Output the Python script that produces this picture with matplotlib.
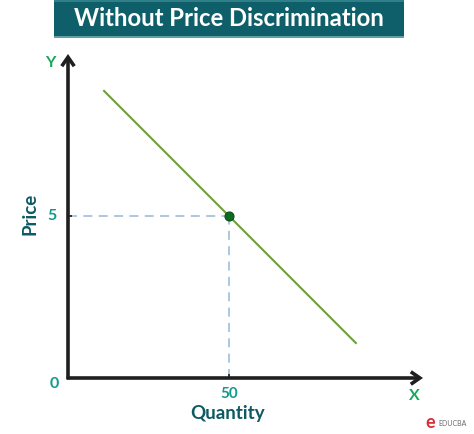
import matplotlib
matplotlib.use("Agg")
import matplotlib.pyplot as plt
from matplotlib.patches import Rectangle

demand_x = [11.2, 89.4]
demand_y = [8.86, 1.08]
point_x = [50]
point_y = [5]
title = "Without Price Discrimination"
x_label = "Quantity"
y_label = "Price"

W, H = 474, 434
plt.rcParams['font.family'] = ['Lato', 'DejaVu Sans']
fig = plt.figure(figsize=(W / 100, H / 100), dpi=100, facecolor='white')

# axes: origin at pixel (68, 378), top right at pixel (423, 54)
ax = fig.add_axes([68 / W, 1 - 378 / H, (423 - 68) / W, (378 - 54) / H])
ax.set_xlim(0, 110.25)
ax.set_ylim(0, 10)
ax.patch.set_visible(False)
for s in ax.spines.values():
    s.set_visible(False)
ax.set_xticks([])
ax.set_yticks([])

# axis arrows
arrow = dict(arrowstyle='->,head_length=0.65,head_width=0.45', color='#1f1f1f', lw=2.6,
             shrinkA=0, shrinkB=0, joinstyle='miter', capstyle='butt')
ax.annotate('', xy=(1, 0), xytext=(-0.004, 0), xycoords='axes fraction', textcoords='axes fraction', arrowprops=arrow)
ax.annotate('', xy=(0, 1), xytext=(0, -0.004), xycoords='axes fraction', textcoords='axes fraction', arrowprops=arrow)

# guides
ax.plot([0, point_x[0]], [point_y[0], point_y[0]], color='#a6c3de', lw=1.3, dashes=(5, 3.5))
ax.plot([point_x[0], point_x[0]], [0, point_y[0]], color='#a6c3de', lw=1.3, dashes=(5, 3.5))

# ticks
ax.plot([50, 50], [-0.13, 0.13], color='#1f1f1f', lw=1.2, solid_capstyle='butt')
ax.plot([-1.3, 1.3], [5, 5], color='#1f1f1f', lw=1.2, solid_capstyle='butt')

# demand
ax.plot(demand_x, demand_y, color='#6f9f3a', lw=1.5)
ax.plot(point_x, point_y, 'o', ms=6.5, mfc='#0b6b1f', mec='#0a4f1a', mew=0.8, zorder=5)

teal = '#0f9a8c'
dark = '#0e5a63'
green = '#16a85a'
def px(x, y):
    return x / W, 1 - y / H

def t(x, y, s, size, color, weight='bold', **kw):
    fig.text(*px(x, y), s, fontsize=size, color=color, fontweight=weight, ha='center', va='center', **kw)

t(229, 394, '50', 11, teal)
t(54, 384, '0', 11.5, teal)
t(52, 216, '5', 11.5, teal)
t(50, 63, 'Y', 11.5, green)
t(414, 396, 'X', 11.5, green)
t(228, 413, x_label, 13.5, dark)
t(30, 214, y_label, 13.5, dark, rotation=90)

# title band
fig.add_artist(Rectangle(px(54, 37), 350 / W, 37 / H, transform=fig.transFigure, color='#0e5f69', lw=0))
fig.add_artist(Rectangle(px(54, 2), 350 / W, 2 / H, transform=fig.transFigure, color='#2f7f88', lw=0))
fig.add_artist(Rectangle(px(54, 37.5), 350 / W, 1 / H, transform=fig.transFigure, color='#5f9fa6', lw=0))
t(229, 19, title, 17.2, 'white')

# logo
t(453, 423, 'EDUCBA', 5, '#6a6a6a', weight='normal')
t(430, 422, 'e', 13, '#d8303a')

fig.savefig('out.png', dpi=100)
